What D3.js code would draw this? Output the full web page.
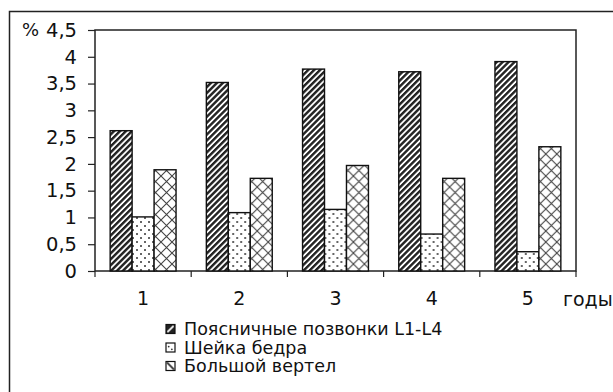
<!DOCTYPE html>
<html>
<head>
<meta charset="utf-8">
<script src="https://cdn.jsdelivr.net/npm/d3@7"></script>
<style>
  body { margin: 0; background: #fff; }
  text { font-family: "DejaVu Sans", sans-serif; fill: #111; }
</style>
</head>
<body>
<div id="chart"></div>
<script>
// data
const years = ['1', '2', '3', '4', '5'];
const seriesNames = ['Поясничные позвонки L1-L4', 'Шейка бедра', 'Большой вертел'];
const lumbar = [2.62, 3.52, 3.77, 3.72, 3.91];
const femoralNeck = [1.01, 1.09, 1.15, 0.69, 0.36];
const trochanter = [1.89, 1.73, 1.97, 1.73, 2.32];
const yTicks = [0, 0.5, 1, 1.5, 2, 2.5, 3, 3.5, 4, 4.5];

const width = 613;
const height = 392;
const margin = { top: 30, right: 37, bottom: 121, left: 95 };
const font = '"DejaVu Sans", sans-serif';

const svg = d3.select('#chart')
  .append('svg')
  .attr('width', width)
  .attr('height', height);

// fill patterns for the bars
const defs = svg.append('defs');

const hatch = defs.append('pattern')
  .attr('id', 'hatch')
  .attr('patternUnits', 'userSpaceOnUse')
  .attr('width', 4.2)
  .attr('height', 4.2)
  .attr('patternTransform', 'rotate(45)');
hatch.append('rect').attr('width', 4.2).attr('height', 4.2).attr('fill', '#fff');
hatch.append('rect').attr('width', 2.4).attr('height', 4.2).attr('fill', '#222');

const dots = defs.append('pattern')
  .attr('id', 'dots')
  .attr('patternUnits', 'userSpaceOnUse')
  .attr('width', 8)
  .attr('height', 8);
dots.append('rect').attr('width', 8).attr('height', 8).attr('fill', '#fff');
dots.append('circle').attr('cx', 2).attr('cy', 2).attr('r', 1).attr('fill', '#333');
dots.append('circle').attr('cx', 6).attr('cy', 6).attr('r', 1).attr('fill', '#333');

const cross = defs.append('pattern')
  .attr('id', 'cross')
  .attr('patternUnits', 'userSpaceOnUse')
  .attr('width', 11)
  .attr('height', 11);
cross.append('rect').attr('width', 11).attr('height', 11).attr('fill', '#fff');
cross.append('path').attr('d', 'M0,0L11,11M11,0L0,11')
  .attr('stroke', '#444').attr('stroke-width', 1.1);

const fills = ['url(#hatch)', 'url(#dots)', 'url(#cross)'];

// small legend swatches look simplified in the original
const keyDark = defs.append('pattern')
  .attr('id', 'keyDark')
  .attr('patternContentUnits', 'objectBoundingBox')
  .attr('width', 1).attr('height', 1);
keyDark.append('rect').attr('width', 1).attr('height', 1).attr('fill', '#222');
keyDark.append('path').attr('d', 'M0.15,0.85L0.85,0.15')
  .attr('stroke', '#fff').attr('stroke-width', 0.2);

const keyDots = defs.append('pattern')
  .attr('id', 'keyDots')
  .attr('patternContentUnits', 'objectBoundingBox')
  .attr('width', 1).attr('height', 1);
keyDots.append('rect').attr('width', 1).attr('height', 1).attr('fill', '#fff');
keyDots.append('circle').attr('cx', 0.3).attr('cy', 0.4).attr('r', 0.1).attr('fill', '#333');
keyDots.append('circle').attr('cx', 0.65).attr('cy', 0.7).attr('r', 0.1).attr('fill', '#333');

const keyCross = defs.append('pattern')
  .attr('id', 'keyCross')
  .attr('patternContentUnits', 'objectBoundingBox')
  .attr('width', 1).attr('height', 1);
keyCross.append('rect').attr('width', 1).attr('height', 1).attr('fill', '#fff');
keyCross.append('path').attr('d', 'M0.1,0.1L0.9,0.9')
  .attr('stroke', '#333').attr('stroke-width', 0.22);

const keyFills = ['url(#keyDark)', 'url(#keyDots)', 'url(#keyCross)'];

// outer frame (right and bottom edges fall off the page)
svg.append('rect')
  .attr('x', 9.5).attr('y', 11.5)
  .attr('width', width).attr('height', height)
  .attr('fill', 'none').attr('stroke', '#222').attr('stroke-width', 1.5);

const x0 = d3.scaleBand()
  .domain(years)
  .range([margin.left, width - margin.right])
  .paddingInner(0)
  .paddingOuter(0);

const x1 = d3.scaleBand()
  .domain(d3.range(seriesNames.length))
  .range([0, x0.bandwidth()])
  .paddingInner(0)
  .paddingOuter(0.69);

const y = d3.scaleLinear()
  .domain([0, 4.5])
  .range([height - margin.bottom, margin.top]);

const data = years.map((yr, i) => ({ year: yr, values: [lumbar[i], femoralNeck[i], trochanter[i]] }));

// plot box
svg.append('rect')
  .attr('x', margin.left).attr('y', margin.top)
  .attr('width', width - margin.right - margin.left)
  .attr('height', y(0) - margin.top)
  .attr('fill', 'none').attr('stroke', '#222').attr('stroke-width', 1.5);

// bars
const groups = svg.selectAll('.grp')
  .data(data)
  .enter().append('g')
  .attr('class', 'grp')
  .attr('transform', d => 'translate(' + x0(d.year) + ',0)');

groups.selectAll('rect')
  .data(d => d.values.map((v, k) => ({ k: k, v: v })))
  .enter().append('rect')
  .attr('x', d => x1(d.k))
  .attr('y', d => y(d.v))
  .attr('width', x1.bandwidth())
  .attr('height', d => y(0) - y(d.v))
  .attr('fill', d => fills[d.k])
  .attr('stroke', '#111')
  .attr('stroke-width', 1.4);

// y axis
const yAxis = d3.axisLeft(y)
  .tickValues(yTicks)
  .tickSize(7)
  .tickFormat(d => String(d).replace('.', ','));

svg.append('g')
  .attr('transform', 'translate(' + margin.left + ',0)')
  .call(yAxis)
  .call(g => g.select('.domain').remove())
  .call(g => g.selectAll('line').attr('stroke', '#222').attr('stroke-width', 1.2))
  .call(g => g.selectAll('text')
    .attr('x', -18)
    .attr('fill', '#111')
    .style('font-size', '19.5px')
    .style('font-family', font));

svg.append('text')
  .attr('x', 22).attr('y', y(4.5))
  .attr('dy', '0.36em')
  .style('font-size', '18px')
  .text('%');

// x axis: labels at band centres, ticks at band edges
const xAxis = d3.axisBottom(x0).tickSize(0).tickPadding(21);
svg.append('g')
  .attr('transform', 'translate(0,' + y(0) + ')')
  .call(xAxis)
  .call(g => g.select('.domain').remove())
  .call(g => g.selectAll('text')
    .attr('fill', '#111')
    .style('font-size', '19px')
    .style('font-family', font));

const edges = years.map(yr => x0(yr)).concat([x0(years[years.length - 1]) + x0.bandwidth()]);
svg.append('g')
  .selectAll('line')
  .data(edges)
  .enter().append('line')
  .attr('x1', d => d).attr('x2', d => d)
  .attr('y1', y(0)).attr('y2', y(0) + 6)
  .attr('stroke', '#222').attr('stroke-width', 1.2);

svg.append('text')
  .attr('x', 563).attr('y', 306)
  .style('font-size', '19px')
  .text('годы');

// legend
const legend = svg.append('g')
  .attr('transform', 'translate(166,329)');

const item = legend.selectAll('g')
  .data(seriesNames)
  .enter().append('g')
  .attr('transform', (d, i) => 'translate(0,' + i * 18.5 + ')');

item.append('rect')
  .attr('x', 0).attr('y', -4.5)
  .attr('width', 9).attr('height', 9)
  .attr('fill', (d, i) => keyFills[i])
  .attr('stroke', '#111')
  .attr('stroke-width', 1.2);

item.append('text')
  .attr('x', 18).attr('dy', '0.36em')
  .style('font-size', '17.5px')
  .text(d => d);
</script>
</body>
</html>
